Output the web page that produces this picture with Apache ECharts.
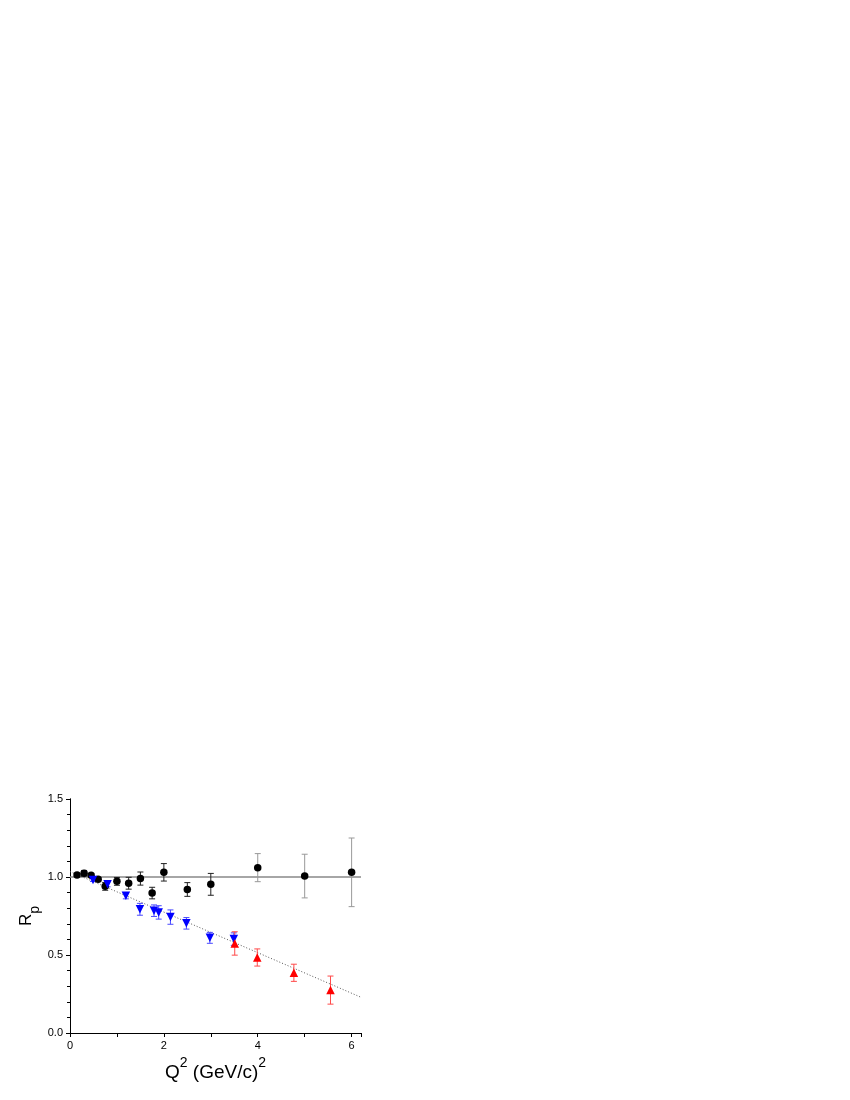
<!DOCTYPE html>
<html>
<head>
<meta charset="utf-8">
<script src="https://cdn.jsdelivr.net/npm/echarts@6/dist/echarts.min.js"></script>
<style>
html,body{margin:0;padding:0;background:#fff;}
#chartmain{width:850px;height:1100px;}
</style>
</head>
<body>
<div id="chartmain"></div>
<script>
// black circles (Q2, Rp, error)
var blackX=[0.15,0.3,0.45,0.6,0.75,1.0,1.25,1.5,1.75,2.0,2.5,3.0,4.0,5.0,6.0];
var blackY=[1.013,1.024,1.011,0.985,0.94,0.972,0.96,0.99,0.897,1.03,0.92,0.953,1.06,1.006,1.03];
var blackErr=[0.01,0.018,0.01,0.012,0.025,0.025,0.038,0.042,0.037,0.056,0.044,0.07,0.09,0.14,0.22];
// blue down triangles
var blueX=[0.49,0.8,1.19,1.49,1.79,1.89,2.14,2.48,2.98,3.49];
var blueY=[0.981,0.953,0.88,0.793,0.784,0.773,0.743,0.703,0.61,0.602];
var blueErr=[0.01,0.016,0.02,0.038,0.037,0.043,0.046,0.037,0.035,0.04];
// red up triangles
var redX=[3.51,3.99,4.77,5.55];
var redY=[0.574,0.484,0.386,0.275];
var redErr=[0.075,0.055,0.055,0.09];
// reference line and linear fit
var refX=[0,6.2];
var refY=[1,1];
var fitX=[0,6.2];
var fitY=[1.035,0.229];

function pairs(xs,ys) {
	var out=[];
	for(var i=0;i<xs.length;i++) out.push([xs[i],ys[i]]);
	return out;
}
function triples(xs,ys,es) {
	var out=[];
	for(var i=0;i<xs.length;i++) out.push([xs[i],ys[i],es[i]]);
	return out;
}

function errorBars(color,farColor) {
	return function(params,api) {
		var x=api.value(0),y=api.value(1),e=api.value(2);
		var hi=api.coord([x,y+e]);
		var lo=api.coord([x,y-e]);
		var c=(farColor&&x>=4)?farColor:color;
		var st={stroke:c,lineWidth:1};
		return {type:'group',children:[
			{type:'line',shape:{x1:hi[0],y1:hi[1],x2:lo[0],y2:lo[1]},style:st},
			{type:'line',shape:{x1:hi[0]-3,y1:hi[1],x2:hi[0]+3,y2:hi[1]},style:st},
			{type:'line',shape:{x1:lo[0]-3,y1:lo[1],x2:lo[0]+3,y2:lo[1]},style:st}
		]};
	};
}

var myChart=echarts.init(document.getElementById("chartmain"));
var fam='Liberation Sans, Arial, sans-serif';
var lblFont={fontFamily:fam,fontSize:11,color:'#000'};
var option={
	animation:false,
	grid:{left:70,top:799,width:291,height:234},
	xAxis:[{
		type:'value',min:0,max:6.2,interval:2,
		axisLine:{lineStyle:{color:'#000',width:1}},
		axisTick:{show:true,length:3,lineStyle:{color:'#000'}},
		minorTick:{show:true,splitNumber:2,length:3,lineStyle:{color:'#000'}},
		splitLine:{show:false},
		axisLabel:Object.assign({margin:7,showMaxLabel:false,formatter:function(v){return v%2===0?String(v):'';}},lblFont),
		name:'{a|Q}{sup|2}{a| (GeV/c)}{sup|2}',
		nameLocation:'middle',nameGap:23,
		nameTextStyle:{rich:{
			a:{fontFamily:fam,fontSize:19,color:'#000',lineHeight:26,verticalAlign:'bottom'},
			sup:{fontFamily:fam,fontSize:14,color:'#000',lineHeight:26,verticalAlign:'top'}
		}}
	},{
		type:'value',min:0,max:6.2,interval:1,position:'top',
		axisLine:{show:true,lineStyle:{color:'#000'}},axisLabel:{show:false},splitLine:{show:false},
		axisTick:{show:true,inside:true,length:4,lineStyle:{color:'#000'}}
	}],
	yAxis:[{
		type:'value',min:0,max:1.5,interval:0.5,
		axisLine:{show:true,lineStyle:{color:'#000',width:1}},
		axisTick:{show:true,length:3,lineStyle:{color:'#000'}},
		minorTick:{show:true,splitNumber:5,length:3,lineStyle:{color:'#000'}},
		splitLine:{show:false},
		axisLabel:Object.assign({margin:7,formatter:function(v){return v.toFixed(1);}},lblFont),
		name:'{a|R}{sub|p}',
		nameLocation:'middle',nameGap:28,nameRotate:90,
		nameTextStyle:{rich:{
			a:{fontFamily:fam,fontSize:17,color:'#000',lineHeight:24,verticalAlign:'top'},
			sub:{fontFamily:fam,fontSize:14,color:'#000',lineHeight:24,verticalAlign:'bottom'}
		}}
	},{
		type:'value',min:0,max:1.5,interval:0.5,position:'right',
		axisLine:{show:true,lineStyle:{color:'#000'}},axisLabel:{show:false},splitLine:{show:false},
		axisTick:{show:true,inside:true,length:4,lineStyle:{color:'#000'}},
		minorTick:{show:true,splitNumber:5,length:3,lineStyle:{color:'#000'}}
	}],
	series:[
		{type:'line',data:pairs(refX,refY),symbol:'none',lineStyle:{color:'#888',width:1.5},z:1},
		{type:'line',data:pairs(fitX,fitY),symbol:'none',lineStyle:{color:'#555',width:1,type:[1,2]},z:1},
		{type:'custom',data:triples(blackX,blackY,blackErr),renderItem:errorBars('#222','#999'),z:2},
		{type:'custom',data:triples(blueX,blueY,blueErr),renderItem:errorBars('#4a4aff'),z:2},
		{type:'custom',data:triples(redX,redY,redErr),renderItem:errorBars('#ff4a4a'),z:2},
		{type:'scatter',data:pairs(blackX,blackY),symbol:'circle',symbolSize:7.5,itemStyle:{color:'#000',opacity:1},z:3},
		{type:'scatter',data:pairs(blueX,blueY),symbol:'triangle',symbolRotate:180,symbolSize:8.5,itemStyle:{color:'#0000ff',opacity:1},z:3},
		{type:'scatter',data:pairs(redX,redY),symbol:'triangle',symbolSize:8.5,itemStyle:{color:'#ff0000',opacity:1},z:3}
	]
};
myChart.setOption(option);
</script>
</body>
</html>
